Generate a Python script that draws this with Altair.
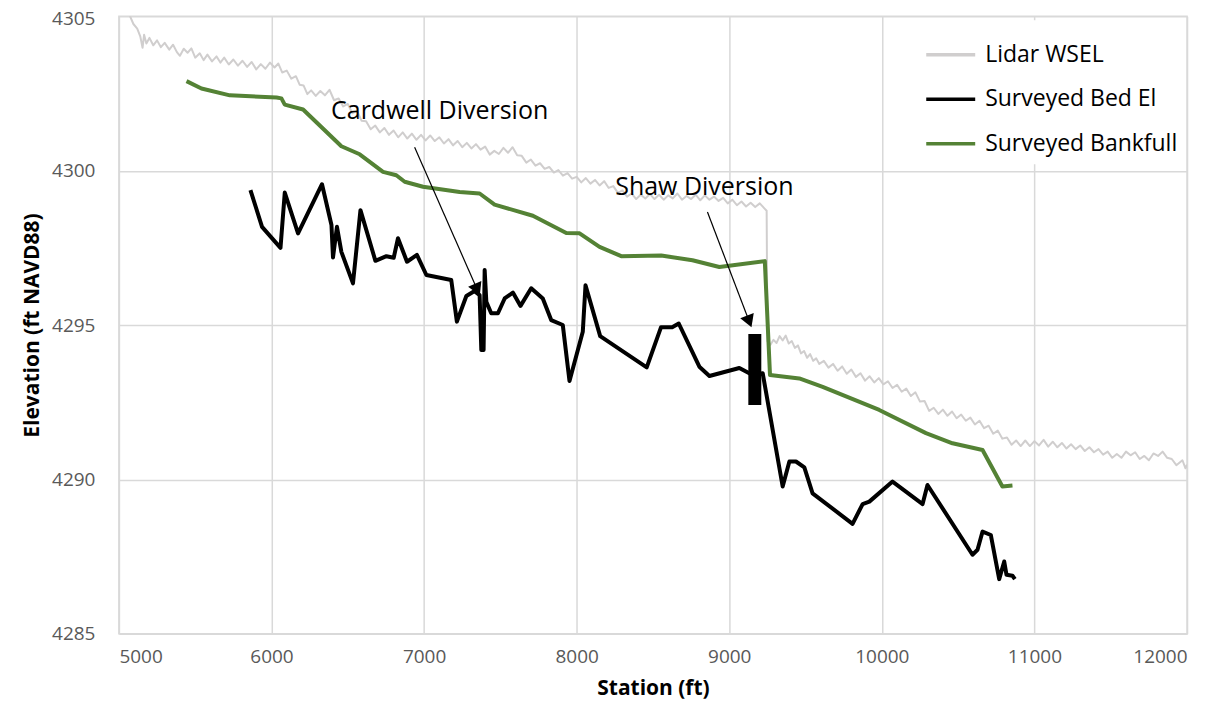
import altair as alt
import pandas as pd

# ---------------- data ----------------
lidar_x = [5060, 5095, 5120, 5140, 5155, 5165, 5180, 5200, 5225, 5250, 5275, 5300, 5330, 5355, 5380,
           5400, 5425, 5450, 5475, 5500, 5530, 5555, 5580, 5610, 5640, 5665, 5690, 5720, 5750, 5780,
           5810, 5840, 5870, 5900, 5930, 5960, 5990, 6020, 6045, 6070, 6100, 6130, 6160, 6185, 6210,
           6235, 6260, 6290, 6320, 6350, 6380, 6410, 6440, 6470, 6500, 6530, 6560, 6590, 6620, 6650,
           6680, 6710, 6740, 6770, 6800, 6830, 6860, 6890, 6920, 6950, 6980, 7010, 7040, 7070, 7100,
           7130, 7160, 7190, 7220, 7250, 7280, 7310, 7340, 7370, 7400, 7430, 7460, 7490, 7520, 7550,
           7580, 7610, 7640, 7670, 7700, 7730, 7760, 7790, 7820, 7850, 7880, 7910, 7940, 7970, 8000,
           8030, 8060, 8090, 8120, 8150, 8180, 8210, 8240, 8270, 8300, 8330, 8360, 8390, 8420, 8450,
           8480, 8510, 8540, 8570, 8600, 8630, 8660, 8690, 8720, 8750, 8780, 8810, 8840, 8870, 8900,
           8930, 8960, 8990, 9020, 9050, 9080, 9110, 9140, 9170, 9200, 9230, 9245, 9250, 9270, 9290,
           9310, 9330, 9350, 9370, 9390, 9410, 9430, 9450, 9470, 9490, 9510, 9530, 9550, 9570, 9590,
           9620, 9650, 9680, 9710, 9740, 9770, 9800, 9830, 9860, 9890, 9920, 9950, 9980, 10010, 10040,
           10070, 10100, 10130, 10160, 10190, 10220, 10250, 10280, 10310, 10340, 10370, 10400, 10430, 10460, 10490,
           10520, 10550, 10580, 10610, 10640, 10670, 10700, 10730, 10760, 10790, 10820, 10850, 10880, 10910, 10940,
           10970, 11000, 11030, 11060, 11090, 11120, 11150, 11180, 11210, 11240, 11270, 11300, 11330, 11360, 11390,
           11420, 11450, 11480, 11510, 11540, 11570, 11600, 11630, 11660, 11690, 11720, 11750, 11780, 11810, 11840,
           11870, 11900, 11930, 11950, 11970, 11990, 12000]
lidar_y = [4305.15, 4304.75, 4304.60, 4304.35, 4303.98, 4304.40, 4304.12, 4304.30, 4304.06, 4304.22, 4304.00, 4304.14, 4303.92, 4304.08, 4303.84,
           4303.72, 4303.95, 4303.82, 4303.96, 4303.66, 4303.80, 4303.58, 4303.76, 4303.54, 4303.70, 4303.50, 4303.66, 4303.44, 4303.60, 4303.40,
           4303.56, 4303.36, 4303.52, 4303.28, 4303.45, 4303.30, 4303.50, 4303.34, 4303.47, 4303.18, 4303.24, 4302.98, 4303.06, 4302.78, 4302.76,
           4302.48, 4302.60, 4302.42, 4302.58, 4302.44, 4302.62, 4302.28, 4302.34, 4302.08, 4302.16, 4301.86, 4301.94, 4301.62, 4301.60, 4301.34,
           4301.46, 4301.24, 4301.38, 4301.16, 4301.30, 4301.08, 4301.24, 4301.04, 4301.20, 4301.00, 4301.16, 4300.98, 4301.14, 4300.96, 4301.08,
           4300.88, 4301.02, 4300.82, 4300.96, 4300.76, 4300.90, 4300.72, 4300.86, 4300.68, 4300.78, 4300.52, 4300.64, 4300.54, 4300.74, 4300.58,
           4300.76, 4300.50, 4300.48, 4300.26, 4300.36, 4300.16, 4300.24, 4300.06, 4300.12, 4299.94, 4300.02, 4299.84, 4299.92, 4299.74, 4299.80,
           4299.62, 4299.76, 4299.58, 4299.70, 4299.52, 4299.66, 4299.44, 4299.50, 4299.28, 4299.36, 4299.16, 4299.26, 4299.08, 4299.22, 4299.10,
           4299.24, 4299.08, 4299.22, 4299.06, 4299.20, 4299.10, 4299.26, 4299.06, 4299.18, 4299.08, 4299.22, 4299.04, 4299.20, 4299.06, 4299.16,
           4299.02, 4299.12, 4298.94, 4299.06, 4298.88, 4299.00, 4298.84, 4298.96, 4298.82, 4298.94, 4298.78, 4298.70, 4294.48, 4294.36, 4294.52,
           4294.42, 4294.64, 4294.50, 4294.66, 4294.40, 4294.48, 4294.26, 4294.34, 4294.08, 4294.16, 4293.94, 4294.06, 4293.84, 4293.92, 4293.74,
           4293.84, 4293.62, 4293.74, 4293.52, 4293.66, 4293.42, 4293.56, 4293.32, 4293.44, 4293.20, 4293.34, 4293.14, 4293.28, 4293.08, 4293.18,
           4292.96, 4293.06, 4292.84, 4292.94, 4292.70, 4292.82, 4292.52, 4292.54, 4292.22, 4292.32, 4292.12, 4292.26, 4292.06, 4292.20, 4291.98,
           4292.10, 4291.90, 4292.00, 4291.78, 4291.90, 4291.66, 4291.74, 4291.48, 4291.58, 4291.32, 4291.36, 4291.12, 4291.26, 4291.08, 4291.26,
           4291.08, 4291.24, 4291.10, 4291.28, 4291.06, 4291.22, 4291.04, 4291.18, 4291.00, 4291.14, 4290.98, 4291.10, 4290.92, 4291.04, 4290.88,
           4290.98, 4290.80, 4290.90, 4290.70, 4290.82, 4290.70, 4290.90, 4290.78, 4290.88, 4290.66, 4290.76, 4290.62, 4290.84, 4290.76, 4290.90,
           4290.70, 4290.66, 4290.46, 4290.54, 4290.62, 4290.36, 4290.48]

bed_x = [5862, 5938, 6059, 6087, 6174, 6331, 6393, 6403, 6429, 6458, 6534, 6583, 6681, 6753, 6801,
         6829, 6888, 6953, 7015, 7178, 7215, 7277, 7331, 7364, 7375, 7390, 7397, 7408, 7440, 7484,
         7528, 7582, 7632, 7702, 7778, 7833, 7909, 7953, 8040, 8058, 8154, 8459, 8553, 8626, 8669,
         8804, 8870, 9066, 9153, 9219, 9350, 9394, 9437, 9492, 9546, 9808, 9874, 9918, 10070, 10267,
         10299, 10594, 10627, 10660, 10714, 10769, 10802, 10817, 10856, 10872]
bed_y = [4299.37, 4298.18, 4297.50, 4299.29, 4297.97, 4299.56, 4298.24, 4297.19, 4298.18, 4297.37, 4296.35, 4298.72, 4297.08, 4297.23, 4297.18,
         4297.81, 4297.05, 4297.27, 4296.62, 4296.46, 4295.11, 4295.94, 4296.10, 4295.97, 4294.19, 4294.19, 4296.78, 4295.75, 4295.38, 4295.38,
         4295.86, 4296.05, 4295.62, 4296.19, 4295.86, 4295.16, 4295.00, 4293.19, 4294.78, 4296.29, 4294.64, 4293.63, 4294.93, 4294.93, 4295.05,
         4293.65, 4293.35, 4293.61, 4293.38, 4293.44, 4289.77, 4290.58, 4290.58, 4290.39, 4289.55, 4288.56, 4289.20, 4289.28, 4289.93, 4289.20,
         4289.82, 4287.56, 4287.72, 4288.31, 4288.20, 4286.77, 4287.34, 4286.91, 4286.88, 4286.77]

bank_x = [5443, 5541, 5727, 6033, 6065, 6087, 6207, 6458, 6578, 6731, 6818, 6873, 6993, 7233, 7364,
          7462, 7713, 7932, 8019, 8150, 8292, 8554, 8759, 8935, 9233, 9267, 9459, 9612, 9983, 10289,
          10463, 10660, 10790, 10856]
bank_y = [4302.90, 4302.66, 4302.44, 4302.37, 4302.34, 4302.14, 4301.98, 4300.79, 4300.53, 4299.96, 4299.85, 4299.64, 4299.48, 4299.31, 4299.26,
          4298.90, 4298.54, 4297.98, 4297.97, 4297.53, 4297.23, 4297.25, 4297.10, 4296.88, 4297.07, 4293.38, 4293.27, 4293.00, 4292.25, 4291.50,
          4291.17, 4290.95, 4289.77, 4289.80]

series_names = ["Lidar WSEL", "Surveyed Bed El", "Surveyed Bankfull"]
series_colors = ["#D0CECE", "#000000", "#548235"]
series_widths = [2, 4, 4]

x_ticks = [5000, 6000, 7000, 8000, 9000, 10000, 11000, 12000]
y_ticks = [4285, 4290, 4295, 4300, 4305]

# annotations
label_text = ["Cardwell Diversion", "Shaw Diversion"]
label_x = [7102, 8837]
label_y = [4301.93, 4299.47]
arrow_x = [6938, 8857]
arrow_y = [4300.76, 4298.66]
arrow_x2 = [7343, 9126]
arrow_y2 = [4296.21, 4295.18]
arrow_angle = [156, 159]

# Shaw diversion structure (black bar)
bar_x = [9125]
bar_x2 = [9210]
bar_y = [4292.41]
bar_y2 = [4294.71]

# ---------------- build tables ----------------
series_data = [(lidar_x, lidar_y), (bed_x, bed_y), (bank_x, bank_y)]

labels_df = pd.DataFrame({"text": label_text, "x": label_x, "y": label_y})
arrows_df = pd.DataFrame({"x": arrow_x, "y": arrow_y, "x2": arrow_x2, "y2": arrow_y2, "angle": arrow_angle})
bar_df = pd.DataFrame({"x": bar_x, "x2": bar_x2, "y": bar_y, "y2": bar_y2})

FONT = "Open Sans"

xscale = alt.Scale(domain=[5000, 12000], nice=False, zero=False)
yscale = alt.Scale(domain=[4285, 4305], nice=False, zero=False)

xaxis = alt.Axis(values=x_ticks, format="d", title="Station (ft)", grid=True, ticks=False, domain=False,
                 labelPadding=14, titlePadding=11)
yaxis = alt.Axis(values=y_ticks, format="d", title="Elevation (ft NAVD88)", grid=True, ticks=False, domain=False,
                 labelPadding=24, titlePadding=9,
                 labelOffset={"condition": {"test": "datum.value == 4305", "value": 2}, "value": 0})

color_enc = alt.Color("series:N",
                      scale=alt.Scale(domain=series_names, range=series_colors),
                      sort=series_names,
                      legend=alt.Legend(title=None, orient="none", legendX=798, legendY=4,
                                        symbolType="stroke", symbolSize=2401, symbolStrokeWidth=3.5,
                                        labelFont=FONT, labelFontSize=23, labelColor="#000000",
                                        labelLimit=0, labelOffset=8, rowPadding=5.5, padding=8,
                                        fillColor="white"))

layers = []
for name, (xs, ys), w in zip(series_names, series_data, series_widths):
    df = pd.DataFrame({"station": xs, "elev": ys, "series": name})
    layers.append(
        alt.Chart(df).mark_line(clip=True, strokeJoin="round", strokeWidth=w).encode(
            x=alt.X("station:Q", scale=xscale, axis=xaxis),
            y=alt.Y("elev:Q", scale=yscale, axis=yaxis),
            color=color_enc,
            order=alt.Order("station:Q"),
        )
    )

bar = alt.Chart(bar_df).mark_rect(color="black").encode(
    x="x:Q", x2="x2:Q", y="y:Q", y2="y2:Q"
)

arrows = alt.Chart(arrows_df).mark_rule(color="black", strokeWidth=1.2).encode(
    x="x:Q", y="y:Q", x2="x2:Q", y2="y2:Q"
)

heads = alt.Chart(arrows_df).mark_point(shape="triangle", filled=True, color="black", size=210, opacity=1).encode(
    x="x2:Q", y="y2:Q", angle=alt.Angle("angle:Q", scale=None)
)

texts = alt.Chart(labels_df).mark_text(font=FONT, fontSize=25, color="black", align="center", baseline="middle").encode(
    x="x:Q", y="y:Q", text="text:N"
)

chart = alt.layer(*layers, bar, arrows, heads, texts).properties(
    width=1069, height=618,
    autosize=alt.AutoSizeParams(type="none"),
    padding={"left": 111, "top": 8, "right": 30, "bottom": 80},
).configure_view(
    stroke="#D9D9D9", strokeWidth=1.5
).configure_axis(
    gridColor="#D9D9D9", gridWidth=1.5,
    labelFont=FONT, labelFontSize=19, labelColor="#595959",
    titleFont=FONT, titleFontSize=21, titleFontWeight="bold", titleColor="#000000",
)

chart.save("out.html", embed_options={"renderer": "svg", "actions": False})
